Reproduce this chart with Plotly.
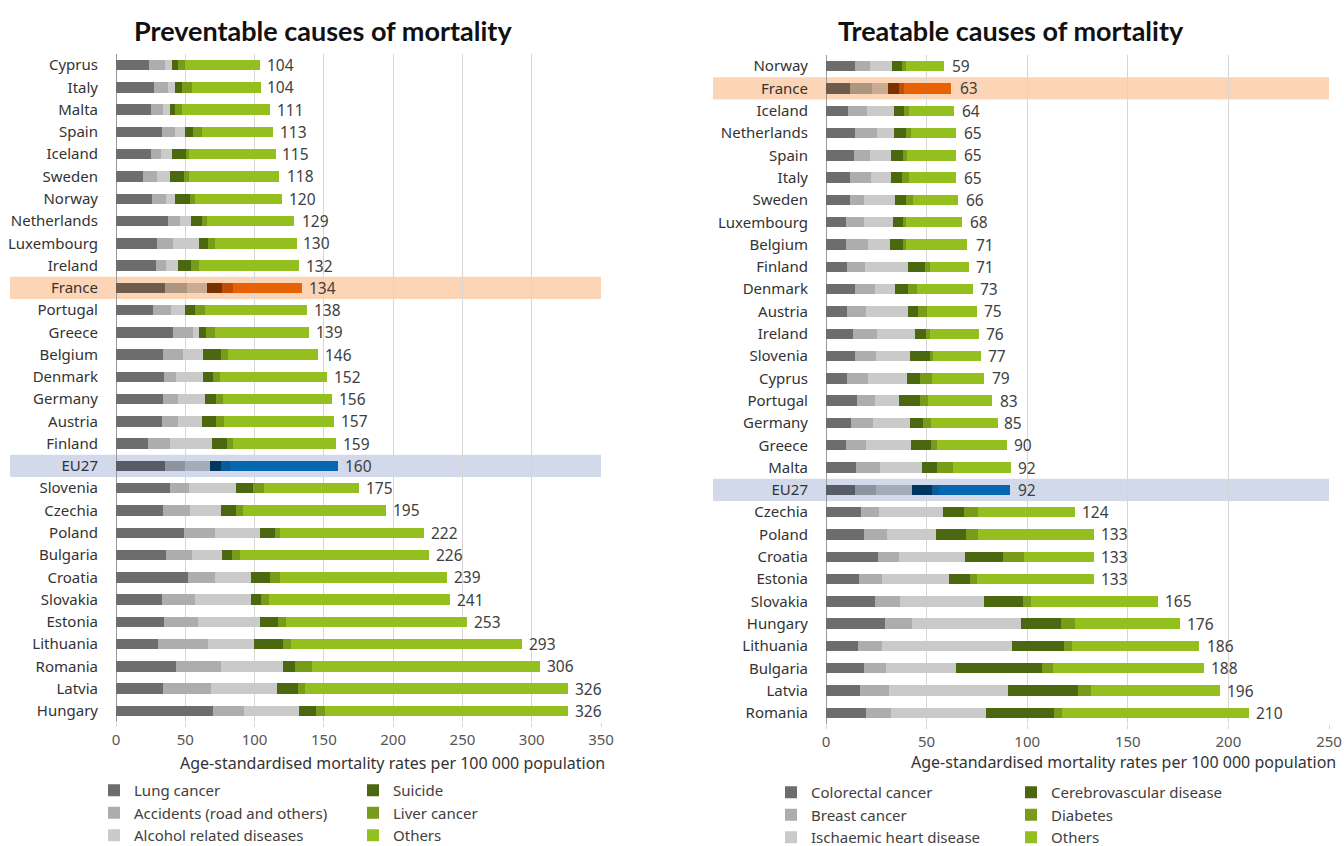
import plotly.graph_objects as go

# ---- Preventable causes (left panel) ---------------------------------
countries_p = ["Cyprus", "Italy", "Malta", "Spain", "Iceland", "Sweden", "Norway",
               "Netherlands", "Luxembourg", "Ireland", "France", "Portugal", "Greece",
               "Belgium", "Denmark", "Germany", "Austria", "Finland", "EU27", "Slovenia",
               "Czechia", "Poland", "Bulgaria", "Croatia", "Slovakia", "Estonia",
               "Lithuania", "Romania", "Latvia", "Hungary"]
lung_cancer = [24, 27.7, 25.5, 33, 25, 19.7, 26.2, 37.8, 29.8, 29, 35.6, 26.9, 41.4, 34.2, 34.9,
               34.2, 33.4, 23.3, 35.6, 39.2, 34.2, 49.1, 36.3, 51.7, 33.4, 34.6, 30.6, 43.5, 34.2, 70.2]
accidents = [11.5, 9.8, 8.4, 9.8, 7.7, 9.9, 9.6, 8.6, 11.6, 7.2, 15.9, 13, 14.4, 14.4, 8.6,
             10.8, 11.6, 15.9, 14.4, 13.7, 19.4, 22.6, 18.8, 20, 23.9, 24.8, 36, 32.5, 34.6, 22.4]
alcohol = [5, 5.3, 5.3, 7.2, 8, 9.6, 7, 8, 18.7, 8.7, 14.4, 10.1, 4.3, 14.4, 19.5,
           19.5, 17.3, 30.3, 18.1, 33.9, 22.4, 32.5, 21.6, 26, 40.4, 44.8, 33.2, 44.8, 47.6, 39.7]
suicide = [4.5, 5.1, 3.6, 5.8, 10.1, 10.1, 10.8, 7.9, 6.5, 9.4, 10.8, 7.3, 5.1, 13, 7.2,
           7.9, 10.1, 10.8, 7.9, 12.3, 10.8, 10.8, 7.3, 13.7, 7.2, 13, 21, 8.6, 15.2, 12.3]
liver_cancer = [5, 7.2, 5.1, 6.5, 2.1, 3.6, 3.7, 3.6, 5.1, 5.7, 8, 7.2, 6.5, 5.1, 5.1,
                5.1, 5.8, 4.4, 6.5, 7.9, 5.1, 3.6, 5.7, 7.2, 5.8, 5.7, 5.7, 12.3, 5, 6.5]
others_p = [54, 49.8, 63.5, 51.2, 62.8, 65, 62.7, 62.8, 59.2, 72, 49.8, 73.5, 67.3, 64.9, 76.7,
            78.5, 78.8, 74.3, 77.5, 68, 103.1, 103.4, 136.3, 120.4, 130.3, 130.1, 166.5, 164.3, 189.4, 174.9]
totals_p = [104, 104, 111, 113, 115, 118, 120, 129, 130, 132, 134, 138, 139, 146, 152,
            156, 157, 159, 160, 175, 195, 222, 226, 239, 241, 253, 293, 306, 326, 326]

# ---- Treatable causes (right panel) ----------------------------------
countries_t = ["Norway", "France", "Iceland", "Netherlands", "Spain", "Italy", "Sweden",
               "Luxembourg", "Belgium", "Finland", "Denmark", "Austria", "Ireland", "Slovenia",
               "Cyprus", "Portugal", "Germany", "Greece", "Malta", "EU27", "Czechia", "Poland",
               "Croatia", "Estonia", "Slovakia", "Hungary", "Lithuania", "Bulgaria", "Latvia", "Romania"]
colorectal = [14.2, 12.1, 11.1, 14.6, 14.1, 11.9, 12.1, 10.1, 10.1, 10.6, 14.6, 10.6, 13.6, 14.6, 10.6,
              15.2, 12.6, 9.8, 15.1, 14.4, 17.6, 19.1, 26, 16.6, 24.2, 29.5, 16.1, 19.1, 17.1, 20]
breast_cancer = [7.5, 10.9, 9.1, 10.9, 7.9, 10.6, 7, 9, 10.9, 8.9, 9.9, 9.4, 11.9, 10.4, 10.4,
                 9.3, 10.9, 10.2, 11.6, 10.6, 8.9, 11.4, 10.4, 11.4, 12.7, 13.4, 11.9, 10.9, 14.4, 12.5]
ischaemic = [11.3, 8, 13.8, 8.5, 10.5, 10, 15.4, 14.4, 10.8, 21.4, 10, 20.9, 18.9, 16.9, 19.4,
             11.9, 18.4, 22.4, 21.2, 17.9, 31.8, 24.3, 32.9, 33.3, 41.8, 54.2, 64.2, 34.8, 59.1, 47.2]
cerebro = [5, 5.4, 4.9, 5.9, 5.9, 5.5, 5.4, 4.9, 6.6, 8.5, 6.4, 5, 5.5, 10, 6.5,
           10.5, 6.5, 10, 7.4, 10, 10.5, 14.9, 18.8, 10.4, 19.4, 19.8, 26.2, 42.7, 34.8, 33.8]
diabetes = [1.9, 2.5, 2.5, 2.5, 2, 3.4, 3.5, 1.5, 1.5, 2.5, 4.5, 4.5, 2, 1.4, 6,
            4, 4, 2.9, 8, 3.4, 6.9, 6, 10.5, 3.5, 4, 7, 4, 5.4, 6.4, 4]
others_t = [18.9, 23.2, 22.4, 22.4, 24.4, 23.4, 22.4, 27.9, 30.4, 19.4, 27.8, 24.8, 24.3, 23.9, 25.8,
            31.8, 33.3, 34.8, 28.8, 35.3, 48.3, 57.3, 34.4, 57.8, 63.1, 52.2, 63.2, 75.1, 64.2, 92.5]
totals_t = [59, 63, 64, 65, 65, 65, 66, 68, 71, 71, 73, 75, 76, 77, 79,
            83, 85, 90, 92, 92, 124, 133, 133, 133, 165, 176, 186, 188, 196, 210]

# colours: default / France / EU27
palette = [
    ("#6d6d6d", "#6e5b4c", "#575c66"),
    ("#adadad", "#ad9680", "#8d939f"),
    ("#cacaca", "#c8ab91", "#a5acb9"),
    ("#4b6710", "#7a3300", "#003660"),
    ("#789c1a", "#c24e06", "#0c5a98"),
    ("#93c01f", "#e86306", "#0667b1"),
]

FONT = "Noto Sans"
# figure fills the whole window (body margin removed in post_script below)
W, H = 1344, 846


def px(x):
    # window pixel -> paper fraction
    return x / W


def py(y):
    return (H - y) / H


def colors_for(countries, idx):
    base, fr, eu = palette[idx]
    return [fr if c == "France" else eu if c == "EU27" else base for c in countries]


fig = go.Figure()

series_p = [("Lung cancer", lung_cancer), ("Accidents (road and others)", accidents),
            ("Alcohol related diseases", alcohol), ("Suicide", suicide),
            ("Liver cancer", liver_cancer), ("Others", others_p)]
series_t = [("Colorectal cancer", colorectal), ("Breast cancer", breast_cancer),
            ("Ischaemic heart disease", ischaemic), ("Cerebrovascular disease", cerebro),
            ("Diabetes", diabetes), ("Others", others_t)]

for i, (name, vals) in enumerate(series_p):
    fig.add_trace(go.Bar(
        x=vals, y=countries_p, orientation="h", name=name,
        marker=dict(color=colors_for(countries_p, i), line_width=0),
        xaxis="x", yaxis="y",
        legend="legend" if i < 3 else "legend2",
    ))

for i, (name, vals) in enumerate(series_t):
    fig.add_trace(go.Bar(
        x=vals, y=countries_t, orientation="h", name=name,
        marker=dict(color=colors_for(countries_t, i), line_width=0),
        xaxis="x2", yaxis="y2",
        legend="legend3" if i < 3 else "legend4",
    ))

annotations = []
# total labels at the end of each bar
for xr, yr, cs, ts in [("x", "y", countries_p, totals_p), ("x2", "y2", countries_t, totals_t)]:
    for c, t in zip(cs, ts):
        annotations.append(dict(
            x=t, y=c, xref=xr, yref=yr, text=str(t), showarrow=False,
            xanchor="left", yanchor="middle", xshift=5,
            font=dict(family=FONT, size=15.5, color="#404040"),
        ))

annotations += [
    dict(text="<b>Preventable causes of mortality</b>", xref="paper", yref="paper",
         x=px(323), y=py(30), showarrow=False, xanchor="center", yanchor="middle",
         font=dict(family="Lato", size=27, color="#111111")),
    dict(text="<b>Treatable causes of mortality</b>", xref="paper", yref="paper",
         x=px(1011), y=py(30), showarrow=False, xanchor="center", yanchor="middle",
         font=dict(family="Lato", size=27, color="#111111")),
    dict(text="Age-standardised mortality rates per 100 000 population", xref="paper",
         yref="paper", x=px(607), y=py(763), showarrow=False, xanchor="right",
         yanchor="middle", font=dict(family=FONT, size=16, color="#333333")),
    dict(text="Age-standardised mortality rates per 100 000 population", xref="paper",
         yref="paper", x=px(1338), y=py(762), showarrow=False, xanchor="right",
         yanchor="middle", font=dict(family=FONT, size=16, color="#333333")),
]

# highlight bands for France and EU27
shapes = []
for cname, col in [("France", "#fbd5b5"), ("EU27", "#d1d9ea")]:
    k = countries_p.index(cname)
    shapes.append(dict(type="rect", xref="paper", yref="y", x0=px(10), x1=px(601),
                       y0=k - 0.5, y1=k + 0.5, fillcolor=col, line_width=0, layer="below"))
    k = countries_t.index(cname)
    shapes.append(dict(type="rect", xref="paper", yref="y2", x0=px(713), x1=px(1329),
                       y0=k - 0.5, y1=k + 0.5, fillcolor=col, line_width=0, layer="below"))

xax = dict(
    showgrid=True, gridcolor="#d6d6d6", gridwidth=1,
    zeroline=True, zerolinecolor="#9a9a9a", zerolinewidth=1,
    ticks="outside", ticklen=4, tickcolor="#d6d6d6",
    tickfont=dict(family=FONT, size=15, color="#555555"),
    dtick=50, fixedrange=True, automargin=False,
)
yax = dict(
    type="category", showgrid=False, zeroline=False,
    tickfont=dict(family=FONT, size=15, color="#333333"),
    ticklabelstandoff=17, fixedrange=True, automargin=False,
)

legend_base = dict(orientation="v", font=dict(family=FONT, size=15, color="#404040"),
                   bgcolor="rgba(0,0,0,0)", itemwidth=30, yanchor="top", xanchor="left",
                   traceorder="normal", itemclick=False, itemdoubleclick=False)

fig.update_layout(
    width=W, height=H,
    barmode="stack", bargap=0.53,
    margin=dict(l=0, r=0, t=0, b=0, autoexpand=False),
    plot_bgcolor="white", paper_bgcolor="white",
    xaxis=dict(xax, domain=[px(116), px(601)], range=[0, 350]),
    yaxis=dict(yax, domain=[py(722), py(54)], anchor="x",
               range=[len(countries_p) - 0.5, -0.5]),
    xaxis2=dict(xax, domain=[px(826), px(1329)], range=[0, 250], anchor="y2"),
    yaxis2=dict(yax, domain=[py(724), py(55)], anchor="x2",
                range=[len(countries_t) - 0.5, -0.5]),
    shapes=shapes,
    annotations=annotations,
    legend=dict(legend_base, x=px(94), y=py(774)),
    legend2=dict(legend_base, x=px(353), y=py(774)),
    legend3=dict(legend_base, x=px(771), y=py(776)),
    legend4=dict(legend_base, x=px(1011), y=py(776)),
)

fig.write_html("out.html", config={"displayModeBar": False},
               post_script="document.body.style.margin='0';")
